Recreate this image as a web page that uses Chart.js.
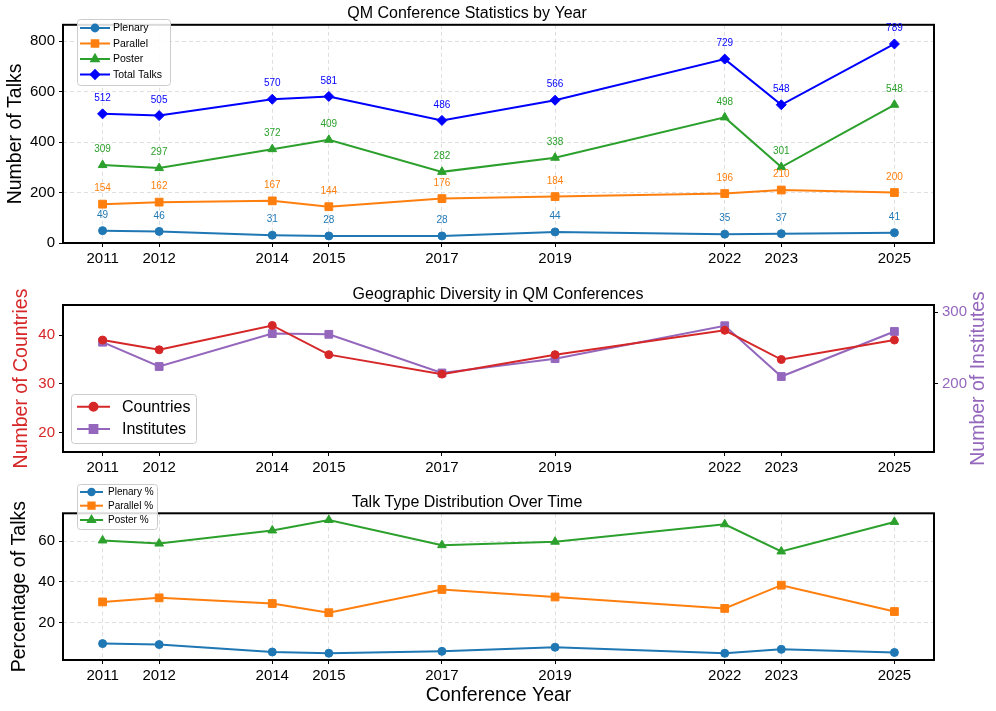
<!DOCTYPE html>
<html>
<head>
<meta charset="utf-8">
<script src="https://cdn.jsdelivr.net/npm/chart.js@4.4.1/dist/chart.umd.min.js"></script>
<style>
  body { margin: 0; background: #fff; }
  #wrap { position: relative; width: 996px; height: 711px; }
  canvas { position: absolute; left: 0; }
</style>
</head>
<body>
<div id="wrap">
  <canvas id="talks" width="996" height="280" style="top:0px"></canvas>
  <canvas id="geo" width="996" height="210" style="top:270px"></canvas>
  <canvas id="pct" width="996" height="241" style="top:470px"></canvas>
</div>
<script>
"use strict";
// conference years and counts
const years = [2011, 2012, 2014, 2015, 2017, 2019, 2022, 2023, 2025];
const plenary = [49, 46, 31, 28, 28, 44, 35, 37, 41];
const parallel = [154, 162, 167, 144, 176, 184, 196, 210, 200];
const poster = [309, 297, 372, 409, 282, 338, 498, 301, 548];
const totalTalks = [512, 505, 570, 581, 486, 566, 729, 548, 789];

const countries = [39, 37, 42, 36, 32, 36, 41, 35, 39];
const institutes = [258, 224, 270, 269, 215, 235, 281, 210, 273];

const plenaryPct = [9.57, 9.11, 5.44, 4.82, 5.76, 7.77, 4.80, 6.75, 5.20];
const parallelPct = [30.08, 32.08, 29.30, 24.78, 36.21, 32.51, 26.89, 38.32, 25.35];
const posterPct = [60.35, 58.81, 65.26, 70.40, 58.02, 59.72, 68.31, 54.93, 69.46];

const talkTicks = [0, 200, 400, 600, 800];
const countryTicks = [20, 30, 40];
const instituteTicks = [200, 300];
const pctTicks = [20, 40, 60];

const FONT = "'Liberation Sans', Arial, Helvetica, sans-serif";
Chart.defaults.font.family = FONT;
Chart.defaults.color = '#000';

const BLUE = '#1f77b4', ORANGE = '#ff7f0e', GREEN = '#2ca02c', PURE = '#0000ff';
const RED = '#d62728', PURPLE = '#9467bd';
const GRIDC = 'rgba(0,0,0,0.16)';

function pts(arr) {
  return years.map((yr, i) => ({ x: yr, y: arr[i] }));
}

function line(label, arr, color, style, r) {
  return {
    label: label, data: pts(arr),
    borderColor: color, backgroundColor: color,
    borderWidth: 2, pointStyle: style, pointRadius: r,
    pointBorderWidth: 1, pointHoverRadius: r,
    tension: 0, clip: false
  };
}

function xAxis(h, grid, title) {
  return {
    type: 'linear', position: 'bottom', min: 2010.3, max: 2025.7,
    afterBuildTicks: s => { s.ticks = years.map(v => ({ value: v })); },
    afterFit: s => { s.height = h; },
    ticks: { callback: v => String(v), font: { size: 15 }, padding: 3, autoSkip: false, maxRotation: 0 },
    grid: {
      drawOnChartArea: grid, color: GRIDC, lineWidth: 0.8,
      tickColor: '#000', tickLength: 4, tickBorderDash: [], tickWidth: 1
    },
    border: { display: false, dash: [4, 3] },
    title: title ? { display: true, text: title, font: { size: 19.5 }, padding: { top: 4, bottom: 4 } } : { display: false }
  };
}

function yAxis(min, max, tickList, pos, w, grid, title, color, titlePad) {
  return {
    type: 'linear', position: pos, min: min, max: max,
    afterBuildTicks: s => { s.ticks = tickList.map(v => ({ value: v })); },
    afterFit: s => { s.width = w; },
    ticks: { font: { size: 15 }, color: color, padding: 4 },
    grid: {
      drawOnChartArea: grid, color: GRIDC, lineWidth: 0.8,
      tickColor: '#000', tickLength: 4, tickBorderDash: [], tickWidth: 1
    },
    border: { display: false, dash: [4, 3] },
    title: { display: title !== null && pos === 'left', text: title || '', color: color, font: { size: 19.5 }, padding: { top: titlePad, bottom: 4 } }
  };
}

// black box round the plot area
const frame = {
  id: 'frame',
  afterDatasetsDraw(chart) {
    const a = chart.chartArea, ctx = chart.ctx;
    ctx.save();
    ctx.strokeStyle = '#000';
    ctx.lineWidth = 2;
    ctx.strokeRect(a.left, a.top, a.right - a.left, a.bottom - a.top);
    ctx.restore();
  }
};

// right-hand axis title, reading bottom to top like matplotlib
const rightTitle = {
  id: 'rightTitle',
  afterDraw(chart, args, o) {
    if (!o || !o.text) return;
    const a = chart.chartArea, ctx = chart.ctx;
    ctx.save();
    ctx.translate(o.x, (a.top + a.bottom) / 2);
    ctx.rotate(-Math.PI / 2);
    ctx.font = '19.5px ' + FONT;
    ctx.fillStyle = o.color;
    ctx.textAlign = 'center';
    ctx.textBaseline = 'middle';
    ctx.fillText(o.text, 0, 0);
    ctx.restore();
  }
};

// numbers above the points (top panel only)
const valueLabels = {
  id: 'valueLabels',
  afterDatasetsDraw(chart, args, opts) {
    if (!opts || !opts.on) return;
    const ctx = chart.ctx;
    ctx.save();
    ctx.font = '10px ' + FONT;
    ctx.textAlign = 'center';
    ctx.textBaseline = 'middle';
    chart.data.datasets.forEach((ds, i) => {
      const meta = chart.getDatasetMeta(i);
      ctx.fillStyle = ds.borderColor;
      meta.data.forEach((el, j) => {
        ctx.fillText(String(ds.data[j].y), el.x, el.y - opts.offset);
      });
    });
    ctx.restore();
  }
};

// matplotlib-like legend box, drawn over the frame
const boxLegend = {
  id: 'boxLegend',
  afterDraw(chart, args, o) {
    if (!o || !o.on) return;
    const ctx = chart.ctx;
    ctx.save();
    ctx.fillStyle = 'rgba(255,255,255,0.85)';
    ctx.strokeStyle = '#cccccc';
    ctx.lineWidth = 1;
    ctx.beginPath();
    if (ctx.roundRect) ctx.roundRect(o.x + 0.5, o.y + 0.5, o.w, o.h, 3);
    else ctx.rect(o.x + 0.5, o.y + 0.5, o.w, o.h);
    ctx.fill();
    ctx.stroke();
    ctx.font = o.size + 'px ' + FONT;
    ctx.textBaseline = 'middle';
    ctx.textAlign = 'left';
    chart.data.datasets.forEach((ds, i) => {
      const y = o.rowY[i];
      ctx.strokeStyle = ds.borderColor;
      ctx.fillStyle = ds.borderColor;
      ctx.lineWidth = 2;
      ctx.beginPath();
      ctx.moveTo(o.x0, y);
      ctx.lineTo(o.x1, y);
      ctx.stroke();
      const mx = (o.x0 + o.x1) / 2;
      const r = ds.pointRadius * o.mk;
      if (Chart.helpers && Chart.helpers.drawPoint) {
        Chart.helpers.drawPoint(ctx, { pointStyle: ds.pointStyle, radius: r, borderWidth: 1, rotation: 0 }, mx, y);
      } else {
        ctx.beginPath();
        ctx.arc(mx, y, r, 0, Math.PI * 2);
        ctx.fill();
      }
      ctx.fillStyle = '#000';
      ctx.fillText(ds.label, o.tx, y + 0.5);
    });
    ctx.restore();
  }
};

Chart.register(frame, rightTitle, valueLabels, boxLegend);

const common = {
  responsive: false,
  animation: false,
  events: []
};

// top panel: talk counts
new Chart(document.querySelector('#talks'), {
  type: 'line',
  data: {
    datasets: [
      line('Plenary', plenary, BLUE, 'circle', 4),
      line('Parallel', parallel, ORANGE, 'rect', 5.5),
      line('Poster', poster, GREEN, 'triangle', 5),
      line('Total Talks', totalTalks, PURE, 'rectRot', 5)
    ]
  },
  options: Object.assign({}, common, {
    layout: { padding: { left: 0, right: 62, top: 0, bottom: 0 } },
    scales: {
      x: xAxis(37, true, null),
      y: yAxis(0, 865, talkTicks, 'left', 63, true, 'Number of Talks', '#000', 4)
    },
    plugins: {
      legend: { display: false },
      tooltip: { enabled: false },
      title: { display: true, text: 'QM Conference Statistics by Year', font: { size: 16, weight: 'normal' }, padding: { top: 4, bottom: 1.6 } },
      valueLabels: { on: true, offset: 15.5 },
      boxLegend: { on: true, x: 77, y: 19, w: 93, h: 66, rowY: [28, 43.5, 59, 74.5], x0: 80, x1: 110, tx: 113, size: 10.5, mk: 0.85 }
    }
  })
});

// middle panel: countries and institutes
const geoCountries = line('Countries', countries, RED, 'circle', 4);
geoCountries.yAxisID = 'y';
const geoInstitutes = line('Institutes', institutes, PURPLE, 'rect', 5.5);
geoInstitutes.yAxisID = 'y2';

new Chart(document.querySelector('#geo'), {
  type: 'line',
  data: { datasets: [geoCountries, geoInstitutes] },
  options: Object.assign({}, common, {
    layout: { padding: { left: 0, right: 0, top: 0, bottom: 0 } },
    scales: {
      x: xAxis(28, false, null),
      y: yAxis(16, 46.2, countryTicks, 'left', 63, false, 'Number of Countries', RED, 10),
      y2: yAxis(104.5, 310, instituteTicks, 'right', 62, false, null, PURPLE, 4)
    },
    plugins: {
      legend: { display: false },
      tooltip: { enabled: false },
      title: { display: true, text: 'Geographic Diversity in QM Conferences', font: { size: 16, weight: 'normal' }, padding: { top: 15.4, bottom: 0.4 } },
      rightTitle: { text: 'Number of Institutes', color: PURPLE, x: 979 },
      boxLegend: { on: true, x: 71, y: 124, w: 125, h: 49, rowY: [136.7, 159], x0: 77, x1: 110, tx: 122, size: 16, mk: 1 }
    }
  })
});

// bottom panel: share of each talk type
new Chart(document.querySelector('#pct'), {
  type: 'line',
  data: {
    datasets: [
      line('Plenary %', plenaryPct, BLUE, 'circle', 4),
      line('Parallel %', parallelPct, ORANGE, 'rect', 5.5),
      line('Poster %', posterPct, GREEN, 'triangle', 5)
    ]
  },
  options: Object.assign({}, common, {
    layout: { padding: { left: 0, right: 62, top: 0, bottom: 0 } },
    scales: {
      x: xAxis(51, true, 'Conference Year'),
      y: yAxis(1.5, 73.7, pctTicks, 'left', 63, true, 'Percentage of Talks', '#000', 8)
    },
    plugins: {
      legend: { display: false },
      tooltip: { enabled: false },
      title: { display: true, text: 'Talk Type Distribution Over Time', font: { size: 16, weight: 'normal' }, padding: { top: 22.7, bottom: 1.4 } },
      boxLegend: { on: true, x: 77, y: 14, w: 80, h: 45, rowY: [22, 35.7, 50], x0: 80, x1: 103, tx: 108, size: 10, mk: 0.8 }
    }
  })
});
</script>
</body>
</html>
